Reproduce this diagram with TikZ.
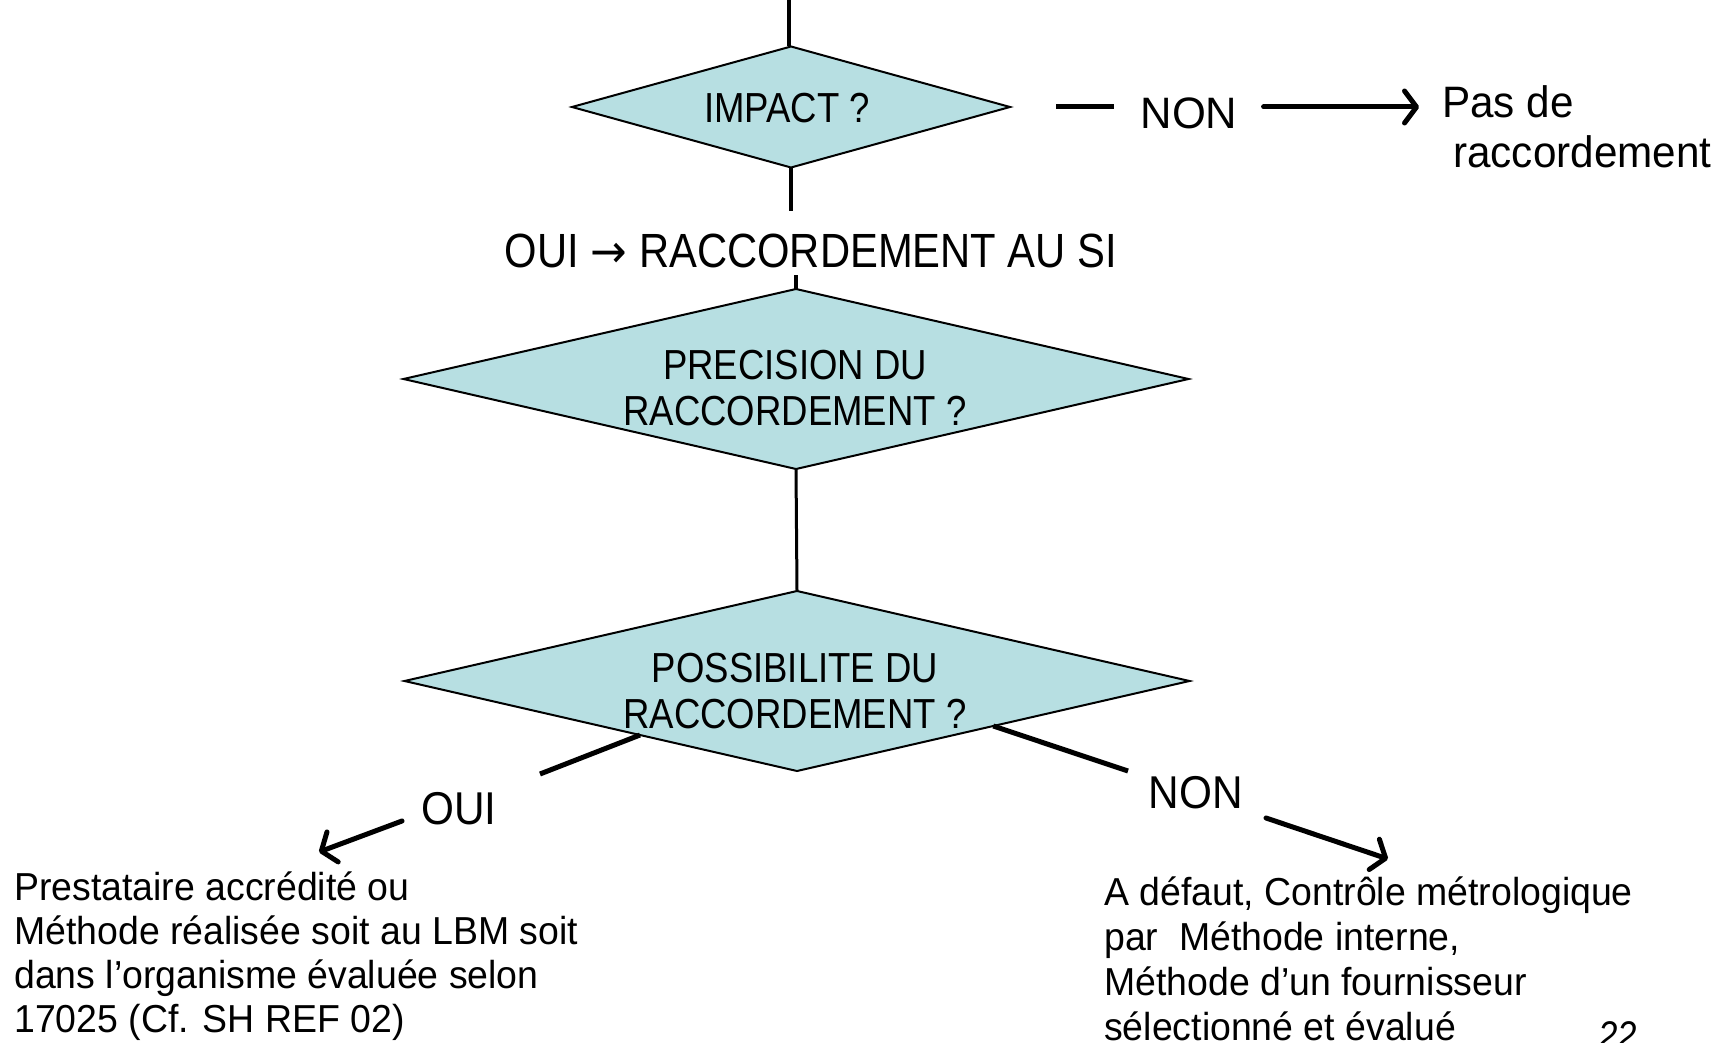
\documentclass[tikz,border=0pt]{standalone}
\usepackage{fontspec}
\setmainfont{Liberation Sans}[FakeStretch=0.87]
\newfontfamily\fA{Liberation Sans}[FakeStretch=0.96]
\newfontfamily\fB{Liberation Sans}[FakeStretch=0.92]
\newfontfamily\fC{Liberation Sans}[FakeStretch=0.99]
\newfontfamily\arrfont{DejaVu Sans}[FakeStretch=0.95]
\usetikzlibrary{shapes.geometric,arrows.meta,calc}
\definecolor{dfill}{RGB}{183,223,226}
\begin{document}
\begin{tikzpicture}[x=1pt,y=-1pt,
  dia/.style={diamond,draw=black,fill=dfill,line width=2pt,inner sep=0pt,outer sep=0pt},
  dtxt/.style={font=\fontsize{42}{46}\selectfont,align=center,inner sep=0pt},
  lbl/.style={inner sep=0pt,font=\fB\fontsize{46}{50}\selectfont},
  conn/.style={line width=4.5pt},
  arr/.style={line width=5pt,line cap=round,-{Straight Barb[length=12pt,width=32pt,round]}},
  body/.style={inner sep=0pt,align=left,anchor=base west,font=\fA\fontsize{39}{44}\selectfont}]
\useasboundingbox (0,0) rectangle (1731,1043);

% diamonds
\node[dia,minimum width=438pt,minimum height=121pt] (d1) at (791,107) {};
\node[dtxt] (t1) at (787,108) {IMPACT ?};
\node[dia,minimum width=785pt,minimum height=180pt] (d2) at (796,379) {};
\node[dtxt] (t2) at (795,388) {PRECISION DU\\RACCORDEMENT ?};
\node[dia,minimum width=785pt,minimum height=180pt] (d3) at (797,681) {};
\node[dtxt] (t3) at (795,691) {POSSIBILITE DU\\RACCORDEMENT ?};

% labels
\node[inner sep=0pt,font=\fontsize{48}{52}\selectfont] (si) at (811,251) {OUI {\arrfont\fontsize{46}{50}\selectfont →} RACCORDEMENT AU SI};
\node[inner sep=0pt,font=\fC\fontsize{44}{48}\selectfont] (non1) at (1189,113) {NON};
\node[inner sep=0pt,align=left,anchor=base west,font=\fA\fontsize{44}{51}\selectfont] (pas) at (1442,168) {Pas de\\\hspace{11pt}raccordement};
\node[lbl] (oui2) at (459,809) {OUI};
\node[lbl] (non2) at (1196,793) {NON};

\node[body] (txtL) at (14,1032) {Prestataire accrédité ou\\Méthode réalisée soit au LBM soit\\dans l’organisme évaluée selon\\17025 (Cf. SH REF 02)};
\node[body,font=\fA\fontsize{39}{45}\selectfont] (txtR) at (1104,1040) {A défaut, Contrôle métrologique\\par~~Méthode interne,\\Méthode d’un fournisseur\\sélectionné et évalué};
\node[inner sep=0pt,anchor=base west,font=\fontsize{40}{44}\selectfont\itshape] (pg) at (1598,1049) {22};

% connectors
\coordinate (top) at (789,0);
\draw[conn] (top) -- (top |- d1.north);
\draw[conn,shorten >=23pt] (d1.south) -- (d1.south |- si.north);
\draw[conn,shorten <=7pt] (d2.north |- si.south) -- (d2.north);
\draw[line width=3pt] (d2.south) -- (d3.north);

\draw[line width=5pt,shorten <=46pt,shorten >=26pt] (d1.east) -- (d1.east -| non1.west);
\draw[arr,shorten <=26pt,shorten >=23pt] (d1.east -| non1.east) -- (d1.east -| pas.west);

\coordinate (e3l) at ($(d3.west)!0.6!(d3.south)$);
\coordinate (oy1) at (540,774);
\draw[line width=5pt] (e3l) -- (oy1);
\coordinate (oa1) at (402,821);
\coordinate (oa2) at (319,852);
\draw[arr] (oa1) -- (oa2);

\coordinate (e3r) at ($(d3.south)!0.5!(d3.east)$);
\coordinate (ny1) at (1128,771);
\draw[line width=5pt] (e3r) -- (ny1);
\coordinate (na1) at (1266,818);
\coordinate (na2) at (1388,859);
\draw[arr] (na1) -- (na2);
\end{tikzpicture}
\end{document}
